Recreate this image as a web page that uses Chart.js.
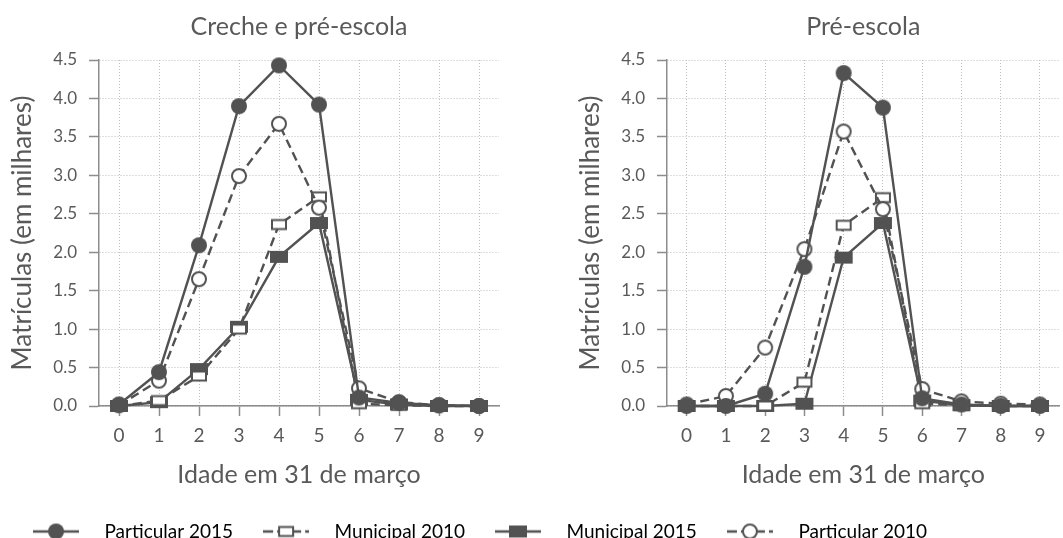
<!DOCTYPE html>
<html>
<head>
<meta charset="utf-8">
<script src="https://cdn.jsdelivr.net/npm/chart.js@4.4.0/dist/chart.umd.min.js"></script>
<style>
  html, body { margin: 0; padding: 0; background: #fff; }
  #wrap { position: relative; width: 1063px; height: 538px; overflow: hidden; }
  .box { position: absolute; }
</style>
</head>
<body>
<div id="wrap">
  <div class="box" style="left:0;top:0;width:530px;height:490px"><canvas id="chartCreche"></canvas></div>
  <div class="box" style="left:568px;top:0;width:502px;height:490px"><canvas id="chartPre"></canvas></div>
  <div class="box" style="left:-40px;top:490px;width:1103px;height:100px"><canvas id="chartLegend"></canvas></div>
</div>
<script>
// Matrículas por idade (em milhares)
const ages = ['0', '1', '2', '3', '4', '5', '6', '7', '8', '9'];
const yTicks = [0, 0.5, 1, 1.5, 2, 2.5, 3, 3.5, 4, 4.5];
const seriesNames = ['Particular 2015', 'Municipal 2010', 'Municipal 2015', 'Particular 2010'];

// Creche e pré-escola
const crechePart2015 = [0.02, 0.44, 2.09, 3.90, 4.43, 3.92, 0.11, 0.04, 0.01, 0.00];
const crechePart2010 = [0.01, 0.33, 1.65, 2.99, 3.67, 2.58, 0.23, 0.05, 0.01, 0.00];
const crecheMun2010  = [0.00, 0.07, 0.39, 1.00, 2.36, 2.72, 0.03, 0.01, 0.00, 0.00];
const crecheMun2015  = [0.00, 0.05, 0.48, 1.03, 1.94, 2.38, 0.08, 0.02, 0.00, 0.00];

// Pré-escola
const prePart2015 = [0.00, 0.00, 0.16, 1.81, 4.33, 3.88, 0.10, 0.02, 0.00, 0.00];
const prePart2010 = [0.02, 0.13, 0.76, 2.04, 3.57, 2.56, 0.22, 0.06, 0.03, 0.02];
const preMun2010  = [0.00, 0.00, 0.00, 0.31, 2.35, 2.71, 0.03, 0.01, 0.00, 0.00];
const preMun2015  = [0.00, 0.00, 0.00, 0.03, 1.93, 2.38, 0.07, 0.01, 0.00, 0.00];

const INK = '#525252';
const TEXT = '#595959';
const GRID = '#bdbdbd';
const AXIS = '#8c8c8c';
const FONT = 'Lato, "Open Sans", sans-serif';
const DASH = [9, 5];

// marker images (circles and flat rectangles like the original)
function drawMarker(ctx, kind, cx, cy) {
  ctx.save();
  ctx.setLineDash([]);
  ctx.lineWidth = 2;
  ctx.strokeStyle = INK;
  ctx.fillStyle = INK;
  if (kind === 'dot') {
    ctx.beginPath(); ctx.arc(cx, cy, 8, 0, Math.PI * 2); ctx.fill();
  } else if (kind === 'ring') {
    ctx.beginPath(); ctx.arc(cx, cy, 7, 0, Math.PI * 2);
    ctx.fillStyle = '#fff'; ctx.fill(); ctx.stroke();
  } else if (kind === 'block') {
    ctx.fillRect(cx - 9, cy - 6, 18, 12);
  } else if (kind === 'box') {
    ctx.fillStyle = '#fff';
    ctx.fillRect(cx - 7, cy - 4.5, 14, 9);
    ctx.strokeRect(cx - 7, cy - 4.5, 14, 9);
  }
  ctx.restore();
}

function markerImage(kind) {
  const c = document.createElement('canvas');
  c.width = 22; c.height = 20;
  drawMarker(c.getContext('2d'), kind, 11, 10);
  return c;
}

function legendImage(kind, dashed) {
  const c = document.createElement('canvas');
  c.width = 46; c.height = 20;
  const ctx = c.getContext('2d');
  ctx.strokeStyle = INK;
  ctx.lineWidth = 2.4;
  if (dashed) ctx.setLineDash([10, 4]);
  ctx.beginPath(); ctx.moveTo(0, 10); ctx.lineTo(46, 10); ctx.stroke();
  drawMarker(ctx, kind, 23, 10);
  return c;
}

const style = {
  'Particular 2015': { kind: 'dot', dashed: false },
  'Municipal 2010':  { kind: 'box', dashed: true },
  'Municipal 2015':  { kind: 'block', dashed: false },
  'Particular 2010': { kind: 'ring', dashed: true }
};

function makeDataset(name, values) {
  const s = style[name];
  return {
    label: name,
    data: values,
    borderColor: INK,
    borderWidth: 2.4,
    borderDash: s.dashed ? DASH : [],
    pointStyle: markerImage(s.kind),
    pointRadius: 8,
    tension: 0,
    clip: false
  };
}

function makeChart(id, title, part2015, part2010, mun2010, mun2015, rightPad) {
  return new Chart(document.getElementById(id), {
    type: 'line',
    data: {
      labels: ages,
      // first dataset is drawn on top
      datasets: [
        makeDataset('Particular 2015', part2015),
        makeDataset('Particular 2010', part2010),
        makeDataset('Municipal 2010', mun2010),
        makeDataset('Municipal 2015', mun2015)
      ]
    },
    options: {
      responsive: true,
      maintainAspectRatio: false,
      animation: false,
      events: [],
      layout: { padding: { left: 0, right: rightPad, top: 0, bottom: 0 } },
      plugins: {
        legend: { display: false },
        tooltip: { enabled: false },
        title: {
          display: true,
          text: title,
          fullSize: false,
          color: TEXT,
          font: { family: FONT, size: 25, weight: 'normal' },
          padding: { top: 12, bottom: 18 }
        }
      },
      scales: {
        x: {
          type: 'category',
          offset: true,
          grid: {
            color: GRID,
            lineWidth: 1,
            offset: false,
            drawTicks: true,
            tickLength: 10,
            tickColor: AXIS,
            tickBorderDash: [],
            tickWidth: 1.5
          },
          border: { display: true, color: AXIS, width: 1.5, dash: [1, 2] },
          ticks: { color: TEXT, font: { family: FONT, size: 19 }, padding: 8 },
          title: {
            display: true,
            text: 'Idade em 31 de março',
            color: TEXT,
            font: { family: FONT, size: 25 },
            padding: { top: 4, bottom: 0 }
          },
          afterFit: (scale) => { scale.height = 84; }
        },
        y: {
          min: 0,
          max: 4.5,
          afterBuildTicks: (scale) => { scale.ticks = yTicks.map(v => ({ value: v })); },
          grid: {
            color: GRID,
            lineWidth: 1,
            drawTicks: true,
            tickLength: 10,
            tickColor: AXIS,
            tickBorderDash: [],
            tickWidth: 1.5
          },
          border: { display: true, color: AXIS, width: 1.5, dash: [1, 2] },
          ticks: {
            color: TEXT,
            font: { family: FONT, size: 17 },
            padding: 12,
            callback: (v) => Number(v).toFixed(1)
          },
          title: {
            display: true,
            text: 'Matrículas (em milhares)',
            color: TEXT,
            font: { family: FONT, size: 26 },
            padding: { top: 7, bottom: 0 }
          },
          afterFit: (scale) => { scale.width = 99; }
        }
      }
    }
  });
}

makeChart('chartCreche', 'Creche e pré-escola', crechePart2015, crechePart2010, crecheMun2010, crecheMun2015, 31);
makeChart('chartPre', 'Pré-escola', prePart2015, prePart2010, preMun2010, preMun2015, 3);

// shared legend under both panels
new Chart(document.getElementById('chartLegend'), {
  type: 'line',
  data: {
    labels: [],
    datasets: seriesNames.map(n => ({ label: n, data: [] }))
  },
  options: {
    responsive: true,
    maintainAspectRatio: false,
    animation: false,
    events: [],
    layout: { padding: { top: 18, right: 79, left: 0, bottom: 0 } },
    scales: { x: { display: false }, y: { display: false } },
    plugins: {
      tooltip: { enabled: false },
      legend: {
        display: true,
        position: 'top',
        labels: {
          usePointStyle: true,
          pointStyleWidth: 78,
          boxHeight: 18,
          padding: 14,
          color: TEXT,
          font: { family: FONT, size: 19 },
          generateLabels: () => seriesNames.map((n, i) => ({
            text: n,
            pointStyle: legendImage(style[n].kind, style[n].dashed),
            fillStyle: INK,
            strokeStyle: INK,
            lineWidth: 0,
            hidden: false,
            datasetIndex: i
          }))
        }
      }
    }
  }
});
</script>
</body>
</html>
